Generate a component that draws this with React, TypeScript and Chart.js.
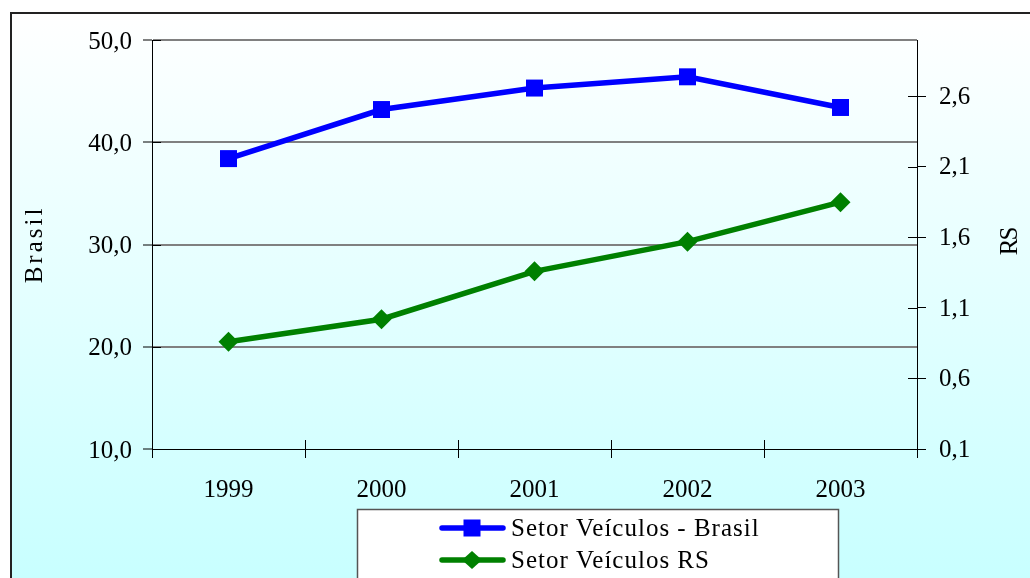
import { useEffect, useRef } from 'react';
import { Chart, registerables } from 'chart.js';

Chart.register(...registerables);

const categories = ['1999', '2000', '2001', '2002', '2003'];
const brasilValues = [38.4, 43.2, 45.3, 46.4, 43.4];
const rsValues = [0.86, 1.02, 1.36, 1.57, 1.85];
const leftTicks = [10, 20, 30, 40, 50];
const rightTicks = [0.1, 0.6, 1.1, 1.6, 2.1, 2.6];
const seriesLabels = ['Setor Veículos - Brasil', 'Setor Veículos RS'];
const leftTitle = 'Brasil';
const rightTitle = 'RS';

const FONT = "'Liberation Serif', 'Times New Roman', serif";
const fmt = (v: number) => Number(v).toFixed(1).replace('.', ',');

const drawRotated = (ctx: any, text: string, x: number, y: number, spacing: number) => {
  ctx.save();
  ctx.translate(x, y);
  ctx.rotate(-Math.PI / 2);
  ctx.letterSpacing = `${spacing}px`;
  ctx.font = `25px ${FONT}`;
  ctx.fillStyle = '#000000';
  ctx.textAlign = 'center';
  ctx.textBaseline = 'middle';
  ctx.fillText(text, spacing / 2, 0);
  ctx.restore();
};

const framePlugin = {
  id: 'frame',
  beforeDraw(chart: any) {
    const { ctx, width, height } = chart;
    ctx.save();
    ctx.fillStyle = '#ffffff';
    ctx.fillRect(0, 0, width, height);
    const g = ctx.createLinearGradient(0, 13, 0, height);
    g.addColorStop(0, '#ffffff');
    g.addColorStop(1, '#c8ffff');
    ctx.fillStyle = g;
    ctx.fillRect(11, 13, width, height);
    ctx.strokeStyle = '#222222';
    ctx.lineWidth = 2;
    ctx.strokeRect(11, 13, width + 20, height + 20);
    ctx.restore();
  },
  afterDraw(chart: any) {
    const { ctx, chartArea } = chart;
    const xs = chart.scales.x;
    const yl = chart.scales.y;
    const yr = chart.scales.y2;
    ctx.save();
    // inner halves of crossing tick marks
    ctx.strokeStyle = '#000000';
    ctx.lineWidth = 1;
    ctx.beginPath();
    yl.ticks.forEach((t: any) => {
      const y = Math.round(yl.getPixelForValue(t.value)) + 0.5;
      ctx.moveTo(chartArea.left, y);
      ctx.lineTo(chartArea.left + 9, y);
    });
    yr.ticks.forEach((t: any) => {
      const y = Math.round(yr.getPixelForValue(t.value)) + 0.5;
      ctx.moveTo(chartArea.right - 9, y);
      ctx.lineTo(chartArea.right, y);
    });
    for (let i = 0; i <= categories.length; i++) {
      const x = Math.round(xs.getPixelForValue(i - 0.5)) + 0.5;
      ctx.moveTo(x, chartArea.bottom - 9);
      ctx.lineTo(x, chartArea.bottom);
    }
    ctx.stroke();

    // axis titles (both read bottom to top)
    drawRotated(ctx, leftTitle, 35, 246, 3);
    drawRotated(ctx, rightTitle, 1010, 241, -2);

    // legend box
    const lx = 357;
    const ly = 509;
    ctx.fillStyle = '#ffffff';
    ctx.fillRect(lx, ly, 481, 90);
    ctx.strokeStyle = '#555555';
    ctx.lineWidth = 1.5;
    ctx.strokeRect(lx + 0.5, ly + 0.5, 481, 90);
    const rows = [528, 560];
    chart.data.datasets.forEach((ds: any, i: number) => {
      const y = rows[i];
      ctx.strokeStyle = ds.borderColor;
      ctx.lineWidth = 5.5;
      ctx.lineCap = 'round';
      ctx.beginPath();
      ctx.moveTo(442, y);
      ctx.lineTo(503, y);
      ctx.stroke();
      ctx.fillStyle = ds.backgroundColor;
      if (i === 0) {
        ctx.fillRect(472 - 8.5, y - 8.5, 17, 17);
      } else {
        ctx.beginPath();
        ctx.moveTo(472, y - 9);
        ctx.lineTo(482, y);
        ctx.lineTo(472, y + 9);
        ctx.lineTo(462, y);
        ctx.closePath();
        ctx.fill();
      }
      ctx.fillStyle = '#000000';
      ctx.font = `25px ${FONT}`;
      ctx.letterSpacing = '1px';
      ctx.textAlign = 'left';
      ctx.textBaseline = 'middle';
      ctx.fillText(ds.label, 511, y + 1);
      ctx.letterSpacing = '0px';
    });
    ctx.restore();
  },
};

export default function App() {
  const ref = useRef<HTMLCanvasElement>(null);

  useEffect(() => {
    document.body.style.margin = '0';
    const tickFont = { family: FONT, size: 25 };
    const chart = new Chart(ref.current as HTMLCanvasElement, {
      type: 'line',
      data: {
        labels: categories,
        datasets: [
          {
            label: seriesLabels[0],
            data: brasilValues,
            yAxisID: 'y',
            borderColor: '#0000ff',
            backgroundColor: '#0000ff',
            borderWidth: 5.5,
            pointStyle: 'rect',
            pointRadius: 12,
            pointBorderWidth: 0,
            tension: 0,
          },
          {
            label: seriesLabels[1],
            data: rsValues,
            yAxisID: 'y2',
            borderColor: '#008000',
            backgroundColor: '#008000',
            borderWidth: 5.5,
            pointStyle: 'rectRot',
            pointRadius: 10,
            pointBorderWidth: 0,
            tension: 0,
          },
        ],
      },
      options: {
        responsive: false,
        animation: false,
        devicePixelRatio: 1,
        layout: { padding: { top: 40, left: 0, right: 0, bottom: 0 } },
        plugins: {
          legend: { display: false },
          tooltip: { enabled: false },
        },
        scales: {
          x: {
            type: 'category',
            offset: true,
            grid: {
              offset: true,
              drawOnChartArea: false,
              drawTicks: true,
              tickLength: 9,
              tickColor: '#000000',
              tickWidth: 1,
            },
            border: { display: true, color: '#000000', width: 1 },
            ticks: { font: tickFont, color: '#000000', padding: 17, maxRotation: 0 },
            afterFit: (s: any) => {
              s.height = 129;
            },
          },
          y: {
            position: 'left',
            min: leftTicks[0],
            max: leftTicks[leftTicks.length - 1],
            afterBuildTicks: (s: any) => {
              s.ticks = leftTicks.map((v) => ({ value: v }));
            },
            grid: {
              color: (c: any) => (c.tick && c.tick.value === leftTicks[0] ? 'rgba(0,0,0,0)' : '#808080'),
              lineWidth: 2,
              tickLength: 9,
              tickColor: '#000000',
              tickWidth: 1,
            },
            border: { display: true, color: '#000000', width: 1 },
            ticks: {
              font: tickFont,
              color: '#000000',
              padding: 11,
              labelOffset: 2,
              callback: (v: any) => fmt(v),
            },
            afterFit: (s: any) => {
              s.width = 152;
            },
          },
          y2: {
            position: 'right',
            min: 0.1,
            max: 3.0,
            afterBuildTicks: (s: any) => {
              s.ticks = rightTicks.map((v) => ({ value: v }));
            },
            grid: {
              drawOnChartArea: false,
              tickLength: 9,
              tickColor: '#000000',
              tickWidth: 1,
            },
            border: { display: true, color: '#000000', width: 1 },
            ticks: {
              font: tickFont,
              color: '#000000',
              padding: 13,
              labelOffset: 1,
              callback: (v: any) => fmt(v),
            },
            afterFit: (s: any) => {
              s.width = 113;
            },
          },
        },
      },
      plugins: [framePlugin],
    } as any);
    return () => chart.destroy();
  }, []);

  return (
    <div style={{ width: 1030, height: 578 }}>
      <canvas ref={ref} width={1030} height={578} style={{ display: 'block' }} />
    </div>
  );
}
